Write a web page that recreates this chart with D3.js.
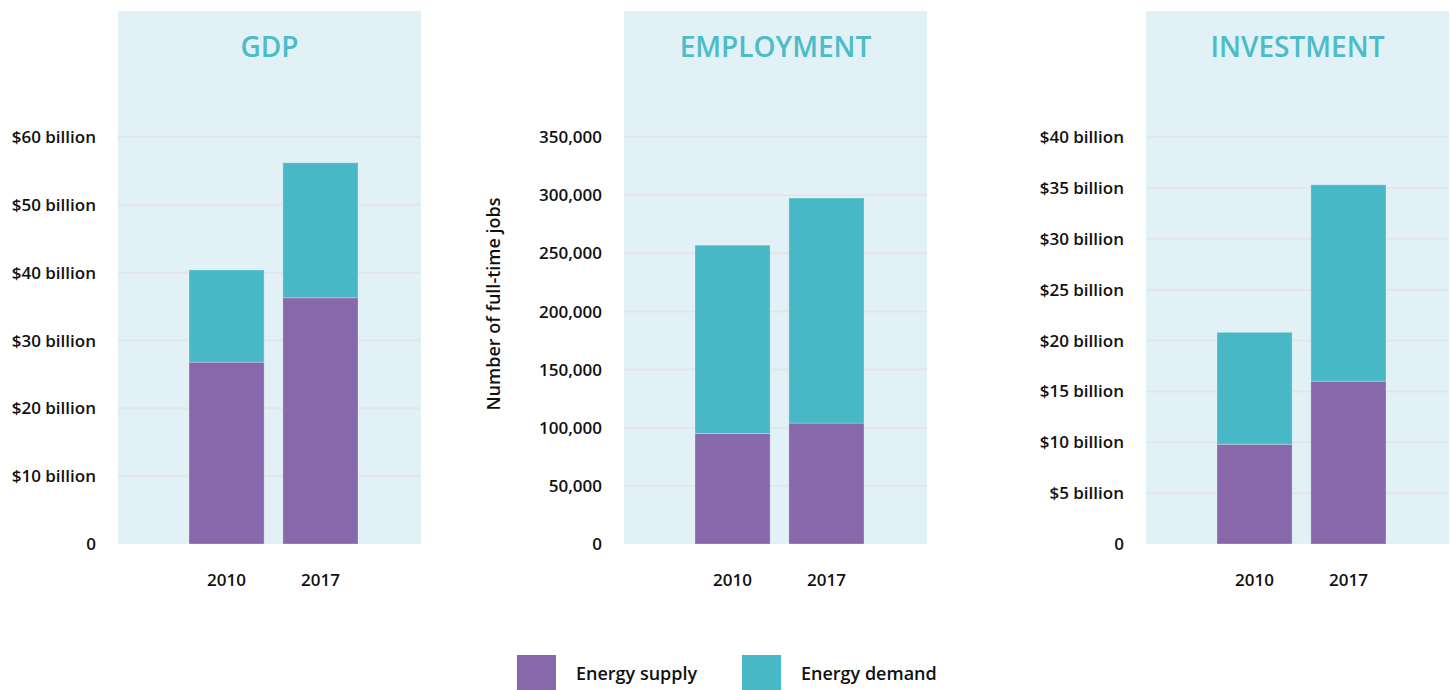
<!DOCTYPE html>
<html>
<head>
<meta charset="utf-8">
<script src="https://cdn.jsdelivr.net/npm/d3@7"></script>
<style>
  body { margin: 0; background: #fff; }
  svg { display: block; font-family: "Open Sans", sans-serif; }
  .tick-label { font-size: 17px; font-weight: 600; fill: #111; }
  .year { font-size: 17px; font-weight: 600; fill: #111; }
  .title { font-size: 28px; font-weight: 600; fill: #4bbcc8; }
  .label { font-size: 18px; font-weight: 600; fill: #111; }
  .legend { font-size: 18px; font-weight: 600; fill: #111; }
</style>
</head>
<body>
<svg width="1451" height="690"></svg>
<script>
// data
var years = ['2010', '2017'];

var gdpSupply = [26.8, 36.3];
var gdpDemand = [13.6, 19.9];
var gdpTicks = [0, 10, 20, 30, 40, 50, 60];

var empSupply = [95000, 104000];
var empDemand = [162000, 193500];
var empTicks = [0, 50000, 100000, 150000, 200000, 250000, 300000, 350000];

var invSupply = [9.8, 16.0];
var invDemand = [11.0, 19.3];
var invTicks = [0, 5, 10, 15, 20, 25, 30, 35, 40];

var seriesNames = ['Energy supply', 'Energy demand'];
var colors = ['#8769ab', '#49b8c6'];

var billion = function(d) { return d == 0 ? '0' : '$' + d + ' billion'; };
var comma = function(d) { return d3.format(',')(d); };

var panels = [
    { title: 'GDP', left: 118, supply: gdpSupply, demand: gdpDemand, ticks: gdpTicks, fmt: billion },
    { title: 'EMPLOYMENT', left: 624, supply: empSupply, demand: empDemand, ticks: empTicks, fmt: comma, ylabel: 'Number of full-time jobs' },
    { title: 'INVESTMENT', left: 1146, supply: invSupply, demand: invDemand, ticks: invTicks, fmt: billion }
];

var svg = d3.select('svg');
var panelW = 303, panelTop = 11, panelBottom = 544;

panels.forEach(function(p) {
    var g = svg.append('g');

    var x = d3.scaleBand()
        .domain(years)
        .range([p.left + 71, p.left + 240])
        .paddingInner(0.2);

    var y = d3.scaleLinear()
        .domain([0, d3.max(p.ticks)])
        .range([panelBottom, 137]);

    // background
    g.append('rect')
        .attr('x', p.left).attr('y', panelTop)
        .attr('width', panelW).attr('height', panelBottom - panelTop)
        .attr('fill', '#e1f1f6');

    // gridlines
    g.selectAll('.grid')
        .data(p.ticks.filter(function(d) { return d > 0; }))
        .enter().append('line')
        .attr('x1', p.left).attr('x2', p.left + panelW)
        .attr('y1', function(d) { return y(d); })
        .attr('y2', function(d) { return y(d); })
        .attr('stroke', '#e4e5e9')
        .attr('stroke-width', 2);

    // tick labels
    g.selectAll('.tick-label')
        .data(p.ticks)
        .enter().append('text')
        .attr('class', 'tick-label')
        .attr('x', p.left - 22)
        .attr('y', function(d) { return y(d); })
        .attr('dy', '0.36em')
        .attr('text-anchor', 'end')
        .text(p.fmt);

    // stacked bars
    var rows = years.map(function(yr, i) {
        return { year: yr, supply: p.supply[i], demand: p.demand[i] };
    });
    var stacked = d3.stack().keys(['supply', 'demand'])(rows);

    g.selectAll('.layer')
        .data(stacked)
        .enter().append('g')
        .attr('fill', function(d, i) { return colors[i]; })
        .selectAll('rect')
        .data(function(d) { return d; })
        .enter().append('rect')
        .attr('x', function(d) { return x(d.data.year); })
        .attr('width', x.bandwidth())
        .attr('y', function(d) { return y(d[1]); })
        .attr('height', function(d) { return y(d[0]) - y(d[1]); })
        .attr('stroke', '#ffffff')
        .attr('stroke-opacity', 0.25)
        .attr('stroke-width', 1);

    // year labels
    g.selectAll('.year')
        .data(years)
        .enter().append('text')
        .attr('class', 'year')
        .attr('x', function(d) { return x(d) + x.bandwidth() / 2; })
        .attr('y', 586)
        .attr('text-anchor', 'middle')
        .text(function(d) { return d; });

    // title
    g.append('text')
        .attr('class', 'title')
        .attr('x', p.left + panelW / 2)
        .attr('y', 57)
        .attr('text-anchor', 'middle')
        .text(p.title);

    if (p.ylabel) {
        g.append('text')
            .attr('class', 'label')
            .attr('transform', 'translate(500,304) rotate(-90)')
            .attr('text-anchor', 'middle')
            .text(p.ylabel);
    }
});

// legend
var legendX = [517, 742];
var legend = svg.selectAll('.legend-item')
    .data(seriesNames)
    .enter().append('g')
    .attr('transform', function(d, i) { return 'translate(' + legendX[i] + ',655)'; });

legend.append('rect')
    .attr('width', 39).attr('height', 35)
    .attr('fill', function(d, i) { return colors[i]; });

legend.append('text')
    .attr('class', 'legend')
    .attr('x', 59)
    .attr('y', 19)
    .attr('dy', '0.36em')
    .text(function(d) { return d; });
</script>
</body>
</html>
